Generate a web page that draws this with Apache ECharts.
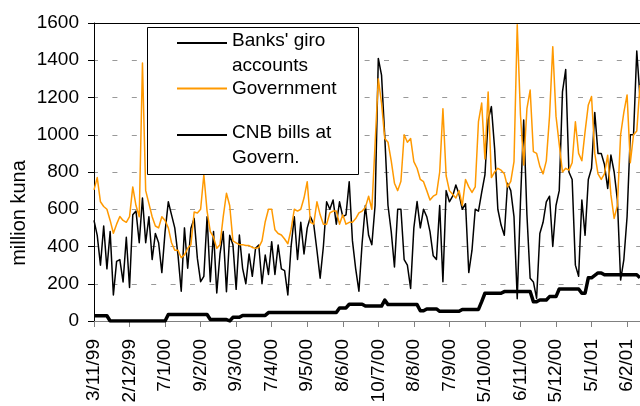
<!DOCTYPE html>
<html>
<head>
<meta charset="utf-8">
<title>Giro accounts and CNB bills</title>
<script src="https://cdn.jsdelivr.net/npm/echarts@6/dist/echarts.min.js"></script>
<style>
  html, body { margin: 0; padding: 0; background: #fff; }
  #chart { width: 640px; height: 406px; }
</style>
</head>
<body>
<div id="chart"></div>
<script>
// Daily balances, million kuna (one value per observation day)
const tickLabels = ['3/11/99', '2/12/99', '7/1/00', '9/2/00', '9/3/00', '7/4/00', '9/5/00', '8/6/00',
  '10/7/00', '8/8/00', '7/9/00', '5/10/00', '6/11/00', '5/12/00', '5/1/01', '6/2/01'];
const tickStep = 11; // observations between labelled ticks

const banksGiro = [
  540, 460, 300, 510, 280, 480, 140, 320, 330, 210,
  450, 180, 570, 590, 420, 660, 420, 560, 330, 470,
  420, 260, 480, 640, 570, 500, 354, 160, 500, 283,
  498, 551, 336, 211, 240, 560, 211, 480, 150, 360,
  480, 157, 460, 410, 170, 462, 283, 200, 360, 240,
  390, 408, 200, 354, 250, 426, 250, 408, 280, 270,
  140, 400, 560, 330, 530, 360, 500, 560, 520, 380,
  230, 400, 640, 600, 650, 520, 640, 560, 570, 748,
  430, 280, 160, 420, 620, 460, 410, 620, 1410, 1320,
  990, 620, 480, 290, 600, 600, 330, 300, 175, 500,
  641, 500, 600, 560, 480, 350, 330, 620, 211, 700,
  640, 670, 730, 680, 600, 630, 260, 380, 600, 590,
  690, 784, 1080, 1151, 927, 600, 515, 460, 740, 700,
  560, 120, 640, 1079, 570, 229, 210, 122, 470, 530,
  640, 670, 400, 620, 700, 1230, 1350, 800, 760, 300,
  240, 650, 460, 760, 820, 1120, 900, 900, 840, 712,
  891, 800, 650, 220, 330, 560, 1000, 1000, 1450, 1200
];

const government = [
  704, 770, 640, 615, 600, 540, 471, 520, 561, 540,
  530, 560, 720, 620, 560, 1385, 700, 630, 560, 510,
  500, 560, 540, 500, 420, 380, 380, 340, 355, 390,
  410, 585, 580, 600, 785, 590, 480, 450, 390, 410,
  560, 686, 620, 430, 420, 410, 410, 405, 405, 395,
  390, 395, 430, 533, 600, 600, 490, 470, 462, 440,
  415, 490, 600, 590, 600, 660, 748, 530, 520, 640,
  570, 520, 520, 580, 590, 590, 520, 570, 520, 530,
  530, 550, 580, 590, 610, 670, 600, 950, 1300, 1170,
  980, 960, 860, 740, 700, 750, 1000, 960, 980, 856,
  820, 760, 748, 700, 650, 670, 680, 800, 1140, 780,
  700, 680, 660, 700, 620, 760, 720, 690, 720, 1070,
  1170, 870, 1230, 770, 800, 820, 810, 790, 720, 750,
  856, 1590, 1106, 838, 1140, 1240, 909, 900, 830, 790,
  860, 1100, 1473, 1100, 950, 800, 820, 810, 850, 1070,
  900, 860, 1017, 1160, 1205, 900, 790, 760, 790, 890,
  677, 551, 620, 1000, 1120, 1214, 850, 1000, 1020, 1267
];

const cnbBills = [
  28, 28, 28, 28, 28, 0, 0, 0, 0, 0,
  0, 0, 0, 0, 0, 0, 0, 0, 0, 0,
  0, 0, 0, 35, 35, 35, 35, 35, 35, 35,
  35, 35, 35, 35, 35, 35, 8, 8, 8, 8,
  8, 8, 0, 20, 20, 20, 30, 30, 30, 30,
  30, 30, 30, 30, 45, 45, 45, 45, 45, 45,
  45, 45, 45, 45, 45, 45, 45, 45, 45, 45,
  45, 45, 45, 45, 45, 45, 70, 70, 70, 90,
  90, 90, 90, 90, 80, 80, 80, 80, 80, 80,
  112, 88, 88, 88, 88, 88, 88, 88, 88, 88,
  88, 55, 55, 65, 65, 65, 65, 52, 52, 52,
  52, 52, 52, 52, 62, 62, 62, 62, 62, 62,
  104, 149, 149, 149, 149, 149, 149, 158, 158, 158,
  158, 158, 158, 158, 158, 158, 104, 104, 113, 113,
  113, 131, 131, 131, 172, 172, 172, 172, 172, 172,
  172, 149, 149, 232, 232, 245, 258, 258, 248, 248,
  248, 248, 248, 248, 248, 248, 248, 248, 248, 232
];

const seriesNames = ["Banks' giro accounts", 'Government', 'CNB bills at Govern.'];
// legend wording, split over lines as printed in the key
const legendLines = {
  "Banks' giro accounts": ["Banks' giro", 'accounts'],
  'Government': ['Government'],
  'CNB bills at Govern.': ['CNB bills at', 'Govern.']
};
const yTicks = { min: 0, max: 1600, step: 200 };

// observation axis: labelled every tickStep days
const categories = banksGiro.map((_, i) => (i % tickStep === 0 ? tickLabels[i / tickStep] : 'obs' + i));

const FONT = '"Liberation Sans", Arial, sans-serif';
const colBanks = '#000000';
const colGov = '#ff9900';
const colCnb = '#000000';

// one key entry per legend block, stacked inside the framed box
function keyEntry(name, top) {
  return {
    orient: 'vertical',
    left: 176, top: top,
    padding: 0,
    itemWidth: 50, itemHeight: 14,
    selectedMode: false,
    z: 5,
    itemStyle: { opacity: 0 },
    formatter: (n) => {
      const lines = legendLines[n];
      return lines.length === 1 ? lines[0] : '{a|' + lines[0] + '}\n{b|' + lines[1] + '}';
    },
    textStyle: {
      fontSize: 19, color: '#000', fontFamily: FONT, lineHeight: 25,
      rich: {
        a: { fontSize: 19, color: '#000', fontFamily: FONT, lineHeight: 46 },
        b: { fontSize: 19, color: '#000', fontFamily: FONT, lineHeight: 4 }
      }
    },
    data: [name]
  };
}

const chart = echarts.init(document.getElementById('chart'), null, { renderer: 'canvas' });

chart.setOption({
  animation: false,
  backgroundColor: '#ffffff',
  textStyle: { fontFamily: FONT },
  grid: { left: 94, right: 0, top: 23, bottom: 85, containLabel: false },
  xAxis: [
    {
      type: 'category',
      data: categories,
      boundaryGap: false,
      axisLine: { show: true, lineStyle: { color: '#808080', width: 1 } },
      axisTick: { show: true, interval: tickStep - 1, length: 6, inside: false, lineStyle: { color: '#808080' } },
      axisLabel: {
        interval: tickStep - 1, rotate: 90, margin: 18,
        fontSize: 19, color: '#000', fontFamily: FONT
      },
      splitLine: { show: false }
    },
    {
      type: 'category',
      data: categories,
      position: 'top',
      boundaryGap: false,
      axisLine: { show: true, lineStyle: { color: '#000', width: 1 } },
      axisTick: { show: false },
      axisLabel: { show: false },
      splitLine: { show: false }
    }
  ],
  yAxis: {
    type: 'value',
    min: yTicks.min, max: yTicks.max, interval: yTicks.step,
    axisLine: { show: true, lineStyle: { color: '#000', width: 1 } },
    axisTick: { show: true, length: 6, lineStyle: { color: '#000' } },
    axisLabel: {
      fontSize: 19, color: '#000', margin: 15, fontFamily: FONT,
      formatter: (v) => String(v)
    },
    splitLine: { show: true, lineStyle: { color: '#999999', width: 1, type: [5, 14.4], dashOffset: 1 } }
  },
  legend: [
    keyEntry(seriesNames[0], 18),
    keyEntry(seriesNames[1], 76),
    keyEntry(seriesNames[2], 110)
  ],
  graphic: [
    {
      type: 'rect', z: 3,
      shape: { x: 147.5, y: 27.5, width: 211, height: 147 },
      style: { fill: '#ffffff', stroke: '#000000', lineWidth: 1 }
    },
    {
      type: 'text', z: 3,
      x: 19, y: 213, rotation: Math.PI / 2,
      style: {
        text: 'million kuna', fontSize: 20, fontFamily: FONT, fill: '#000',
        align: 'center', verticalAlign: 'middle'
      }
    }
  ],
  series: [
    {
      name: seriesNames[0], type: 'line', data: banksGiro,
      symbol: 'none', z: 2,
      lineStyle: { color: colBanks, width: 1.5, join: 'round' },
      itemStyle: { color: colBanks }
    },
    {
      name: seriesNames[1], type: 'line', data: government,
      symbol: 'none', z: 2,
      lineStyle: { color: colGov, width: 1.5, join: 'round' },
      itemStyle: { color: colGov }
    },
    {
      name: seriesNames[2], type: 'line', data: cnbBills,
      symbol: 'none', z: 2,
      lineStyle: { color: colCnb, width: 3.5, join: 'round' },
      itemStyle: { color: colCnb }
    }
  ]
});
</script>
</body>
</html>
